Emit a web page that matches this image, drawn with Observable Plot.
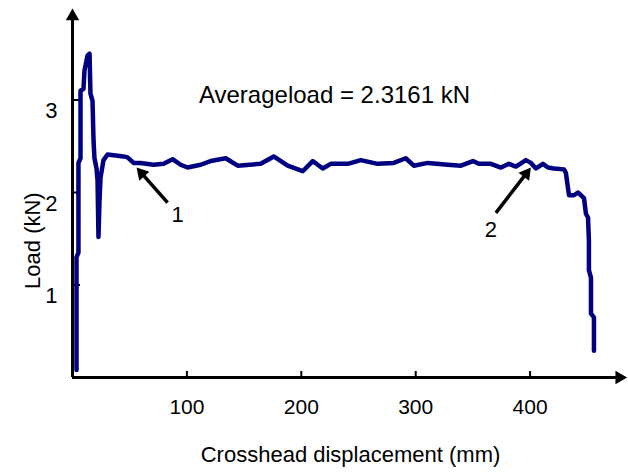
<!DOCTYPE html>
<html>
<head>
<meta charset="utf-8">
<script src="https://cdn.jsdelivr.net/npm/d3@7"></script>
<script src="https://cdn.jsdelivr.net/npm/@observablehq/plot@0.6"></script>
<style>
  html, body { margin: 0; padding: 0; background: #fff; }
  #chart { width: 628px; height: 472px; }
</style>
</head>
<body>
<div id="chart"></div>
<script>
// Crosshead displacement (mm)
const displacement = [3.5, 3.5, 5.2, 5.2, 7.0, 7.0, 9.6, 10.5, 13.1, 14.9, 15.7, 17.5, 18.4, 19.2, 21.0, 21.9, 22.7, 23.6, 24.5, 27.1, 30.6, 37.6, 44.6, 48.1, 53.4, 59.5, 70.9, 79.6, 87.5, 94.5, 100.6, 112.0, 120.7, 133.9, 144.4, 164.5, 175.9, 188.1, 201.2, 210.0, 218.7, 225.7, 240.6, 252.0, 266.8, 280.8, 291.3, 298.3, 310.6, 328.1, 339.5, 350.0, 355.2, 365.7, 374.5, 381.5, 387.6, 396.3, 400.7, 405.1, 411.2, 415.6, 420.8, 429.6, 431.3, 433.1, 434.0, 438.3, 441.8, 447.1, 448.8, 450.6, 451.4, 451.4, 453.2, 453.2, 455.8, 455.8];
// Load (kN)
const load = [0.08, 1.30, 1.35, 2.32, 2.37, 3.10, 3.12, 3.32, 3.48, 3.50, 3.07, 2.99, 2.56, 2.37, 2.26, 2.13, 1.52, 1.91, 2.16, 2.35, 2.41, 2.40, 2.39, 2.38, 2.32, 2.32, 2.30, 2.31, 2.36, 2.30, 2.27, 2.30, 2.34, 2.37, 2.29, 2.31, 2.39, 2.29, 2.23, 2.34, 2.26, 2.31, 2.31, 2.35, 2.31, 2.32, 2.37, 2.29, 2.32, 2.30, 2.29, 2.34, 2.31, 2.31, 2.27, 2.31, 2.28, 2.35, 2.32, 2.26, 2.31, 2.27, 2.26, 2.25, 2.21, 2.05, 1.97, 1.97, 2.00, 1.94, 1.77, 1.73, 1.48, 1.16, 1.08, 0.69, 0.65, 0.29];

const xTicks = [100, 200, 300, 400];
const yTicks = [1, 2, 3];

const xTitle = "Crosshead displacement (mm)";
const yTitle = "Load (kN)";
const noteText = "Averageload = 2.3161 kN";
const noteX = [229];
const noteY = [3.05];

// annotation arrows: tail -> tip
const arrowLabels = ["1", "2"];
const arrowTailX = [83.1, 370.1];
const arrowTailY = [1.89, 1.78];
const arrowTipX = [56.0, 400.7];
const arrowTipY = [2.27, 2.27];
const arrowLabelX = [91.9, 365.7];
const arrowLabelY = [1.76, 1.60];

// plot geometry
const W = 628, H = 472, ML = 72, MR = 0, MT = 7, MB = 95;
const xDomain = [0, 486], yDomain = [0, 4.0];
const kx = (W - ML - MR) / (xDomain[1] - xDomain[0]); // px per mm
const ky = (H - MT - MB) / (yDomain[1] - yDomain[0]); // px per kN
const headR = 5;
const headOffset = 2 * Math.sqrt(Math.PI * headR * headR / (3 * Math.sqrt(3))); // tip-to-centroid px

const series = displacement.map((d, i) => ({x: d, y: load[i]}));
const arrows = arrowLabels.map((l, i) => {
  const dxp = (arrowTipX[i] - arrowTailX[i]) * kx;
  const dyp = -(arrowTipY[i] - arrowTailY[i]) * ky;
  const len = Math.hypot(dxp, dyp);
  const ux = dxp / len, uy = dyp / len;
  const cx = arrowTipX[i] - ux * headOffset / kx;
  const cy = arrowTipY[i] + uy * headOffset / ky;
  return {
    label: l, x1: arrowTailX[i], y1: arrowTailY[i], hx: cx, hy: cy,
    angle: Math.atan2(ux, -uy) * 180 / Math.PI,
    lx: arrowLabelX[i], ly: arrowLabelY[i]
  };
});
const notes = noteX.map((x, i) => ({x, y: noteY[i], text: noteText}));

const FONT = "Liberation Sans, Arial, Helvetica, sans-serif";

const chart = Plot.plot({
  width: W,
  height: H,
  marginLeft: ML,
  marginRight: MR,
  marginTop: MT,
  marginBottom: MB,
  style: {fontFamily: FONT, fontSize: "21px", color: "#000", background: "#fff"},
  x: {domain: xDomain, axis: null},
  y: {domain: yDomain, axis: null},
  marks: [
    // axes lines
    Plot.ruleY([0], {x1: 0, x2: 478, stroke: "#000", strokeWidth: 3}),
    Plot.ruleX([0], {y1: 0, y2: 3.9, stroke: "#000", strokeWidth: 3}),
    Plot.dot([{x: 478, y: 0}], {x: "x", y: "y", symbol: "triangle", r: 5, fill: "#000", stroke: "none", rotate: 90}),
    Plot.dot([{x: 0, y: 3.905}], {x: "x", y: "y", symbol: "triangle", r: 5, fill: "#000", stroke: "none"}),
    // inward ticks
    Plot.ruleX(xTicks, {y1: 0, y2: 0.065, stroke: "#000", strokeWidth: 2}),
    Plot.ruleY(yTicks, {x1: 0, x2: 7, stroke: "#000", strokeWidth: 2}),
    // tick labels
    Plot.axisX({ticks: xTicks, tickSize: 0, tickPadding: 22, fontSize: 21, label: null, tickFormat: d3.format("d")}),
    Plot.axisY({ticks: yTicks, tickSize: 0, tickPadding: 15, dy: 11, fontSize: 22, label: null, tickFormat: d3.format("d")}),
    // axis titles
    Plot.text([xTitle], {frameAnchor: "bottom", dy: 84, fontSize: 22, fill: "#000"}),
    Plot.text([yTitle], {x: 0, y: [1.48], text: () => yTitle, rotate: -90, dx: -40, fontSize: 22, fill: "#000"}),
    // data line
    Plot.line(series, {x: "x", y: "y", stroke: "#000080", strokeWidth: 4.5, strokeLinejoin: "round"}),
    // annotation text
    Plot.text(notes, {x: "x", y: "y", text: "text", fontSize: 24, fill: "#000"}),
    // arrows
    Plot.link(arrows, {x1: "x1", y1: "y1", x2: "hx", y2: "hy", stroke: "#000", strokeWidth: 3.5}),
    Plot.dot(arrows, {x: "hx", y: "hy", symbol: "triangle", r: headR, rotate: "angle", fill: "#000", stroke: "none"}),
    Plot.text(arrows, {x: "lx", y: "ly", text: "label", fontSize: 22, fill: "#000"})
  ]
});
document.getElementById("chart").appendChild(chart);
</script>
</body>
</html>
